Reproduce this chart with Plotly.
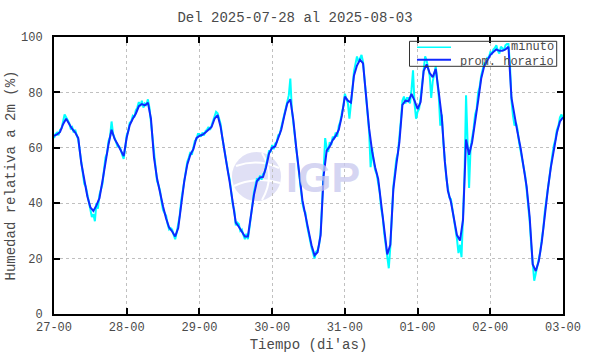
import pandas as pd
import plotly.graph_objects as go

# ---------------- data ----------------
start = "2025-07-27 00:00"
# hourly average relative humidity (%), 169 points (27-00 .. 03-00)
prom_horario = [
    64.3, 64.8, 65.7, 68.5, 70.5, 68.5, 66.8, 65.5, 63.5, 54.5, 48.0, 42.5,
    38.5, 37.2, 39.2, 41.8, 48.0, 55.5, 61.3, 66.5, 63.2, 61.3, 59.0, 57.0,
    63.7, 68.2, 70.5, 72.3, 75.0, 75.8, 75.3, 76.3, 70.5, 56.5, 49.0, 43.4,
    38.8, 34.5, 31.2, 29.8, 28.0, 31.0, 40.0, 48.0, 54.0, 57.5, 59.5, 63.5,
    64.3, 64.7, 65.5, 66.5, 67.5, 70.5, 71.8, 67.5, 61.5, 54.0, 47.5, 40.5,
    33.0, 31.5, 29.8, 28.0, 28.0, 35.0, 43.0, 48.0, 49.3, 49.5, 53.0, 58.0,
    60.0, 60.5, 63.3, 66.5, 71.5, 76.0, 77.5, 70.0, 59.5, 49.5, 41.0, 35.5,
    29.8, 24.8, 21.2, 22.3, 28.5, 50.0, 59.0, 60.5, 62.8, 64.3, 66.5, 71.5,
    78.5, 77.0, 76.3, 86.0, 89.7, 91.8, 90.5, 79.0, 67.0, 58.7, 53.0, 48.8,
    39.0, 30.0, 21.5, 25.0, 45.0, 54.0, 62.0, 75.5, 77.0, 76.8, 79.5, 77.0,
    74.0, 76.5, 87.7, 90.1, 87.0, 85.5, 88.5, 80.0, 71.0, 55.0, 44.5, 40.5,
    35.0, 28.5, 26.5, 34.0, 63.0, 57.5, 62.0, 70.5, 77.0, 85.0, 89.5, 91.5,
    93.5, 94.6, 95.5, 95.0, 95.0, 95.5, 96.5, 78.0, 71.0, 65.5, 60.0, 53.5,
    46.0, 35.0, 18.0, 15.5, 19.0, 26.0, 36.0, 45.0, 53.0, 60.0, 65.5, 69.5,
    71.0,
]
# minute data, read every 30 min (337 points)
minuto = [
    63.5, 65.0, 65.5, 64.5, 66.5, 67.0, 69.5, 72.0, 71.0, 70.0, 69.0, 67.0,
    67.5, 65.5, 66.5, 64.5, 63.0, 59.0, 55.5, 50.5, 47.0, 46.0, 43.5, 40.0,
    37.5, 35.0, 36.0, 33.5, 40.0, 38.0, 43.0, 45.0, 47.0, 52.0, 56.5, 58.0,
    62.5, 64.0, 69.5, 65.0, 63.5, 62.0, 60.5, 60.5, 59.5, 57.5, 56.0, 60.0,
    64.5, 66.0, 69.0, 69.5, 71.5, 71.0, 73.5, 74.5, 76.5, 75.0, 77.0, 74.5,
    76.0, 75.5, 77.5, 74.5, 69.5, 63.0, 57.5, 52.0, 48.0, 46.5, 44.5, 40.5,
    37.5, 36.5, 35.5, 32.5, 30.5, 31.0, 30.5, 28.5, 27.0, 29.5, 32.0, 35.5,
    41.0, 44.5, 49.0, 52.5, 55.0, 56.5, 58.5, 57.5, 60.0, 62.5, 63.0, 65.0,
    65.0, 64.0, 65.5, 64.5, 66.0, 66.5, 67.5, 66.5, 68.0, 69.5, 71.5, 73.0,
    72.5, 70.0, 68.5, 64.0, 60.5, 58.0, 53.0, 51.0, 48.5, 44.0, 39.5, 37.5,
    32.0, 33.0, 32.5, 30.0, 30.5, 28.5, 27.0, 29.0, 27.0, 31.0, 36.0, 39.5,
    44.0, 46.5, 49.0, 48.0, 50.0, 48.5, 50.5, 51.0, 54.0, 56.5, 59.0, 58.5,
    61.0, 59.5, 61.5, 62.0, 64.5, 65.0, 67.5, 69.5, 72.5, 74.5, 77.0, 79.0,
    85.0, 74.0, 69.0, 64.0, 58.5, 54.0, 50.5, 45.0, 40.0, 37.5, 36.5, 32.0,
    29.0, 27.5, 24.0, 22.0, 20.0, 22.5, 23.0, 25.0, 29.5, 40.0, 51.0, 63.5,
    60.0, 58.5, 62.0, 61.0, 64.0, 63.5, 65.5, 64.0, 68.0, 69.5, 72.5, 75.0,
    79.5, 77.5, 76.0, 70.5, 77.5, 81.0, 87.5, 90.5, 93.0, 91.0, 92.5, 93.5,
    91.0, 84.0, 78.0, 72.0, 66.0, 53.0, 60.0, 55.0, 52.0, 50.5, 47.5, 44.0,
    38.0, 35.0, 29.0, 25.0, 20.0, 16.5, 24.0, 35.0, 46.0, 51.0, 56.0, 58.0,
    63.0, 70.0, 77.0, 78.5, 76.0, 78.0, 78.0, 76.0, 81.0, 88.0, 76.0, 70.5,
    73.0, 74.0, 78.0, 83.0, 89.0, 93.0, 91.5, 88.5, 86.0, 78.0, 84.0, 86.5,
    89.5, 84.0, 78.5, 68.0, 72.0, 62.0, 54.0, 49.0, 45.5, 42.0, 41.5, 38.0,
    34.0, 31.0, 27.0, 22.0, 25.0, 20.5, 35.0, 50.0, 79.0, 60.0, 45.5, 60.0,
    63.0, 67.0, 72.0, 74.0, 80.0, 82.0, 86.0, 88.5, 90.5, 90.0, 92.5, 92.5,
    94.5, 94.0, 95.5, 96.0, 97.0, 95.0, 94.0, 96.5, 96.0, 95.0, 97.0, 97.5,
    97.5, 90.0, 77.0, 71.5, 68.0, 69.0, 66.5, 62.0, 59.0, 57.0, 52.5, 50.0,
    45.0, 40.0, 33.5, 25.0, 16.5, 12.0, 14.5, 17.0, 20.0, 22.5, 27.0, 31.0,
    37.0, 41.5, 46.0, 49.0, 54.0, 57.5, 61.0, 63.0, 66.5, 68.0, 71.0, 72.0,
    70.5,
]
tick_labels = ["27-00", "28-00", "29-00", "30-00", "31-00", "01-00", "02-00", "03-00"]
y_ticks = [0, 20, 40, 60, 80, 100]
series_names = ["minuto", "prom. horario"]
title_text = "Del 2025-07-28 al 2025-08-03"

t_hour = pd.date_range(start, periods=len(prom_horario), freq="h")
t_min = pd.date_range(start, periods=len(minuto), freq="30min")
tick_vals = pd.date_range(start, periods=len(tick_labels), freq="D")

# ---------------- figure ----------------
W, H = 590, 354
L, R, T, B = 54, 27, 37, 40
PW, PH = W - L - R, H - T - B


def px(x):
    return (x - L) / PW


def py(y):
    return (H - B - y) / PH


FONT = "Liberation Mono, Courier New, monospace"
TXT = "#4a4a4a"

fig = go.Figure()
fig.add_trace(go.Scatter(x=t_min, y=minuto, mode="lines", name=series_names[0],
                         line=dict(color="#00ffff", width=2.0), showlegend=False))
fig.add_trace(go.Scatter(x=t_hour, y=prom_horario, mode="lines", name=series_names[1],
                         line=dict(color="#1028ff", width=2), showlegend=False))

axis_common = dict(
    automargin=False,
    showline=True, linecolor="black", linewidth=2, mirror="allticks",
    ticks="inside", ticklen=6, tickwidth=1.5, tickcolor="black",
    showgrid=True, gridcolor="#c0c0c0", gridwidth=1, griddash="dot",
    zeroline=False, tickfont=dict(family=FONT, size=12, color=TXT),
    title_font=dict(family=FONT, size=14, color=TXT),
)

fig.update_xaxes(
    **axis_common,
    range=[tick_vals[0], tick_vals[-1]],
    tickmode="array", tickvals=tick_vals, ticktext=tick_labels,
    title_text="Tiempo (di'as)", title_standoff=5, ticklabelstandoff=1,
)
fig.update_yaxes(
    **axis_common,
    range=[0, 100], tickmode="array", tickvals=y_ticks,
    ticktext=[str(v) for v in y_ticks],
    title_text="Humedad relativa a 2m (%)", title_standoff=2, ticklabelstandoff=7,
)

shapes = []
# watermark globe (below traces)
shapes.append(dict(type="circle", xref="paper", yref="paper", layer="below",
                   x0=px(232), x1=px(281), y0=py(201), y1=py(152),
                   fillcolor="#e0e0f5", line=dict(width=0)))
shapes.append(dict(type="path", xref="paper", yref="paper", layer="below",
                   path=f"M {px(236)},{py(166)} Q {px(258)},{py(158)} {px(279)},{py(168)}",
                   line=dict(color="white", width=2)))
shapes.append(dict(type="path", xref="paper", yref="paper", layer="below",
                   path=f"M {px(234)},{py(186)} Q {px(256)},{py(176)} {px(280)},{py(183)}",
                   line=dict(color="white", width=2)))
shapes.append(dict(type="path", xref="paper", yref="paper", layer="below",
                   path=f"M {px(262)},{py(153)} Q {px(276)},{py(176)} {px(262)},{py(200)}",
                   line=dict(color="white", width=2)))
# manual legend
shapes.append(dict(type="rect", xref="paper", yref="paper",
                   x0=px(409.5), x1=px(556.7), y0=py(66.3), y1=py(41.3),
                   line=dict(color="#333333", width=1), fillcolor="rgba(0,0,0,0)"))
shapes.append(dict(type="line", xref="paper", yref="paper",
                   x0=px(417), x1=px(451), y0=py(47.3), y1=py(47.3),
                   line=dict(color="#00ffff", width=1.4)))
shapes.append(dict(type="line", xref="paper", yref="paper",
                   x0=px(417), x1=px(451), y0=py(59.7), y1=py(59.7),
                   line=dict(color="#1028ff", width=2)))

annotations = [
    dict(text="IGP", xref="paper", yref="paper", x=px(323), y=py(177),
         showarrow=False, font=dict(family="Liberation Sans, Arial", size=43,
                                    color="rgba(200,200,238,0.75)", weight="bold")),
    dict(text=series_names[0], xref="paper", yref="paper", x=px(556), y=py(46.8),
         xanchor="right", yanchor="middle", showarrow=False, height=11,
         font=dict(family=FONT, size=12, color=TXT)),
    dict(text=series_names[1], xref="paper", yref="paper", x=px(556), y=py(61),
         xanchor="right", yanchor="middle", showarrow=False, height=11,
         font=dict(family=FONT, size=12, color=TXT)),
]

fig.update_layout(
    width=W, height=H,
    margin=dict(l=L, r=R, t=T, b=B, autoexpand=False),
    paper_bgcolor="white", plot_bgcolor="white",
    title=dict(text=title_text, x=px(308.5), xanchor="center",
               y=1 - 17 / H, yanchor="middle",
               font=dict(family=FONT, size=14, color=TXT)),
    shapes=shapes, annotations=annotations, showlegend=False,
)

fig.write_html("out.html")
